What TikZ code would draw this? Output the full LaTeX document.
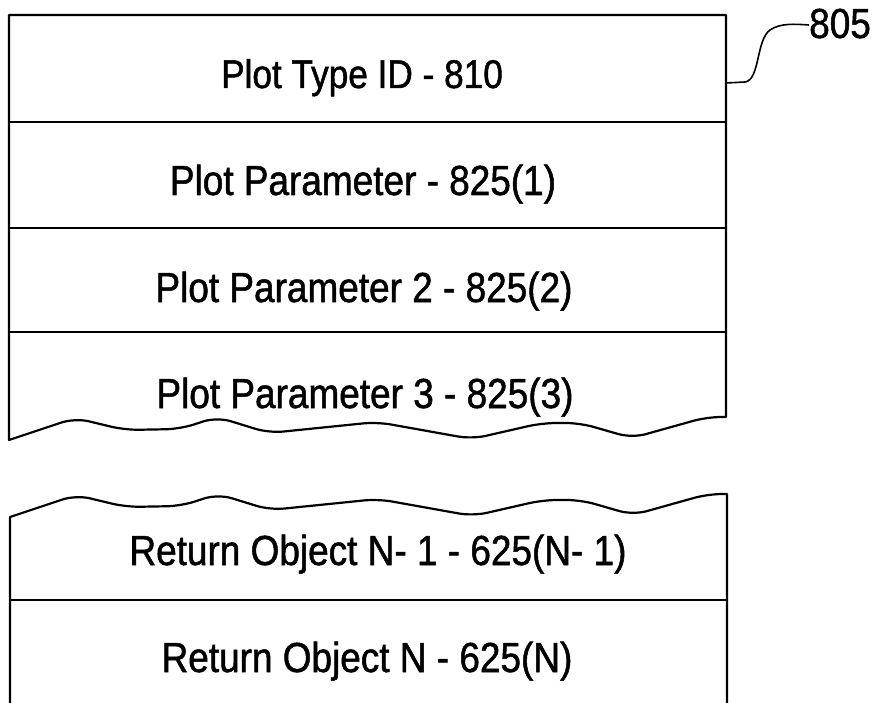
\documentclass[tikz,border=0pt]{standalone}
\usepackage{fontspec}
\setmainfont{Liberation Sans}[FakeStretch=0.88, FakeBold=1.2]
\begin{document}
\begin{tikzpicture}[x=1pt,y=-1pt,
  frame/.style={line width=2.2pt, line join=round},
  sep/.style={line width=2pt},
  lbl/.style={anchor=base, inner sep=0pt, font=\fontsize{42}{44}\selectfont},
  ref/.style={anchor=base west, inner sep=0pt, font=\fontsize{42}{44}\selectfont},
  leader/.style={line width=1.6pt}]
\useasboundingbox (0,0) rectangle (875,703);
% top block
\draw[frame] (9,440) -- (9,15) -- (726,15) -- (726,417) [rounded corners=14pt] -- (707,417) -- (632,438) -- (580,423) -- (542,423) -- (472,439) -- (377,422) -- (269,433) -- (217,417) -- (180,429) -- (125,430) -- (75,418) [sharp corners] -- cycle;
\draw[sep] (9,122) -- (726,122);
\draw[sep] (9,228) -- (726,228);
\draw[sep] (9,332) -- (726,332);
% bottom block
\draw[frame] (10,703) -- (10,517) [rounded corners=14pt] -- (76,495) -- (126,507) -- (181,506) -- (218,494) -- (270,510) -- (378,499) -- (473,516) -- (543,500) -- (581,500) -- (633,515) -- (708,494) [sharp corners] -- (727,494) -- (727,703);
\draw[sep] (10,600) -- (727,600);
% texts
\node[lbl, font=\fontsize{40}{44}\selectfont] (t1) at (362,88) {Plot Type ID - 810};
\node[lbl] (t2) at (363,195) {Plot Parameter - 825(1)};
\node[lbl] (t3) at (364,302) {Plot Parameter 2 - 825(2)};
\node[lbl] (t4) at (365,408) {Plot Parameter 3 - 825(3)};
\node[lbl] (t5) at (378,565) {Return Object N- 1 - 625(N- 1)};
\node[lbl] (t6) at (367,672) {Return Object N - 625(N)};
% reference label
\node[ref] (r805) at (809,38) {805};
\coordinate (lstart) at (726,83);
\draw[leader] (lstart) -- (745,82) .. controls (760,80) and (756,40) .. (770,30) .. controls (780,23) and (795,24) .. (r805.west |- 0,25);
\end{tikzpicture}
\end{document}
